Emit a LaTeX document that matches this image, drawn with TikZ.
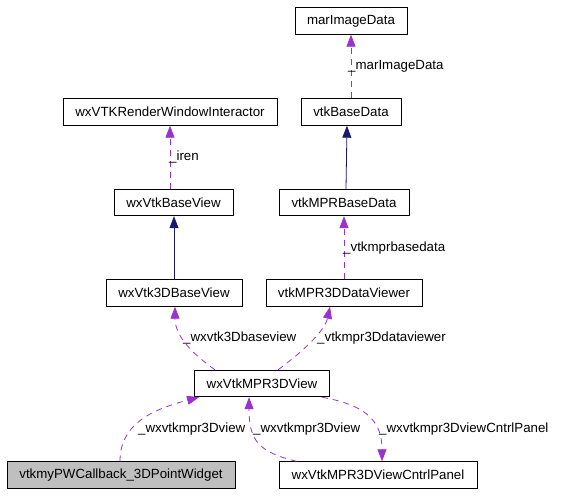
\documentclass[tikz,border=0pt]{standalone}
\usepackage{fontspec}
\setmainfont{Liberation Sans}
\usetikzlibrary{arrows.meta}
\definecolor{edgepurple}{HTML}{9A32CD}
\definecolor{edgenavy}{HTML}{191970}
\definecolor{grayfill}{HTML}{BFBFBF}
\begin{document}
\begin{tikzpicture}[x=1pt,y=-1pt,
  cls/.style={draw=black, line width=0.9pt, minimum height=26.5pt, inner sep=0pt,
    font=\fontsize{13.3}{16}\selectfont, anchor=center},
  lbl/.style={font=\fontsize{13.3}{16}\selectfont, anchor=west, inner sep=0pt},
  dep/.style={draw=edgepurple, line width=0.8pt, dash pattern=on 6pt off 5pt,
    -{Triangle[length=12pt,width=9pt]}},
  inh/.style={draw=edgenavy, line width=0.8pt, -{Triangle[length=12pt,width=9pt]}}]
\useasboundingbox (0,0) rectangle (580,495);
% nodes
\node[cls, minimum width=112pt] (mi) at (351,21) {marImageData};
\node[cls, minimum width=214pt] (ri) at (170,112) {wxVTKRenderWindowInteractor};
\node[cls, minimum width=100pt] (bd) at (351,112) {vtkBaseData};
\node[cls, minimum width=119pt] (bv) at (173.5,202.5) {wxVtkBaseView};
\node[cls, minimum width=130pt] (mb) at (344,202.5) {vtkMPRBaseData};
\node[cls, minimum width=136pt] (b3) at (174,293) {wxVtk3DBaseView};
\node[cls, minimum width=156pt] (dv) at (344,293) {vtkMPR3DDataViewer};
\node[cls, minimum width=135pt] (v) at (262,383.5) {wxVtkMPR3DView};
\node[cls, minimum width=228pt, fill=grayfill] (cb) at (121,475) {vtkmyPWCallback\_3DPointWidget};
\node[cls, minimum width=198pt] (cp) at (378,475) {wxVtkMPR3DViewCntrlPanel};
% straight edges
\draw[dep] (bd.north) -- (mi.south);
\draw[inh] ([xshift=-5pt]mb.north -| bd.south) -- ([xshift=-4pt]bd.south);
\draw[dep] (bv.north -| ri.south) -- (ri.south);
\draw[inh] (b3.north) -- (bv.south -| b3.north);
\draw[dep] (dv.north) -- (mb.south);
% curved edges
\draw[dep] ([xshift=-47pt]v.north) .. controls (190,352) and (175,335) .. ([xshift=1pt]b3.south);
\draw[dep] ([xshift=16pt]v.north) .. controls (305,350) and (325,330) .. ([xshift=-14pt]dv.south);
\draw[dep] ([xshift=-1pt]cb.north) .. controls (120,425) and (150,410) .. ([xshift=5pt]v.south west);
\draw[dep] ([xshift=18pt]cp.north west) .. controls (258,452) and (249,440) .. ([xshift=55pt]v.south west);
\draw[dep] ([xshift=-8pt]v.south east) .. controls (365,405) and (382,420) .. ([xshift=4pt]cp.north);
% labels
\node[lbl] (l1) at (348,66) {\_marImageData};
\node[lbl] (l2) at (169,157) {\_iren};
\node[lbl] (l3) at (343,248) {\_vtkmprbasedata};
\node[lbl] (l4) at (183,338) {\_wxvtk3Dbaseview};
\node[lbl] (l5) at (317,338) {\_vtkmpr3Ddataviewer};
\node[lbl] (l6) at (138,429) {\_wxvtkmpr3Dview};
\node[lbl] (l7) at (253,429) {\_wxvtkmpr3Dview};
\node[lbl] (l8) at (379,429) {\_wxvtkmpr3DviewCntrlPanel};
\end{tikzpicture}
\end{document}
